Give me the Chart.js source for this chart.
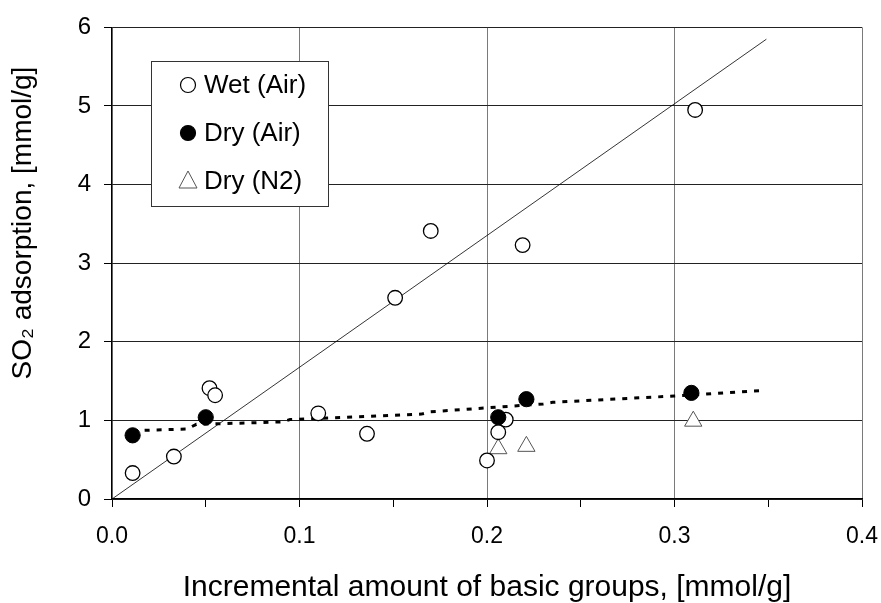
<!DOCTYPE html>
<html>
<head>
<meta charset="utf-8">
<script src="https://cdn.jsdelivr.net/npm/chart.js@4"></script>
<style>
  html, body { margin: 0; padding: 0; background: #fff; }
</style>
</head>
<body>
<canvas id="so2Chart" width="881" height="603"></canvas>
<script>
// values
const seriesNames = ['Wet (Air)', 'Dry (Air)', 'Dry (N2)'];

const wetX = [0.011, 0.033, 0.052, 0.055, 0.110, 0.136, 0.151, 0.170, 0.200, 0.206, 0.210, 0.219, 0.311];
const wetY = [0.33, 0.54, 1.41, 1.32, 1.09, 0.83, 2.56, 3.41, 0.49, 0.85, 1.01, 3.23, 4.95];

const dryAirX = [0.011, 0.050, 0.206, 0.221, 0.309];
const dryAirY = [0.81, 1.04, 1.04, 1.27, 1.35];

const dryN2X = [0.206, 0.221, 0.310];
const dryN2Y = [0.64, 0.67, 0.99];

// trend lines
const wetFitX = [0, 0.349];
const wetFitY = [0, 5.85];
const dryFitX = [0.011, 0.040, 0.045, 0.090, 0.095, 0.165, 0.170, 0.230, 0.235, 0.300, 0.346];
const dryFitY = [0.87, 0.89, 0.95, 0.98, 1.01, 1.08, 1.11, 1.21, 1.23, 1.31, 1.38];

const xTicks = ['0.0', '0.1', '0.2', '0.3', '0.4'];
const yTicks = ['0', '1', '2', '3', '4', '5', '6'];
const yTitle = 'SO₂ adsorption, [mmol/g]';

const FONT = "'Liberation Sans', Arial, sans-serif";

function pairs(xs, ys) {
    return xs.map((x, i) => ({ x: x, y: ys[i] }));
}

// legend box drawn inside the plot, like the original
const boxLegend = {
    id: 'boxLegend',
    afterDraw(chart) {
        const ctx = chart.ctx;
        const left = 151.5, top = 61.5, w = 177, h = 145;
        ctx.save();
        ctx.fillStyle = '#fff';
        ctx.fillRect(left, top, w, h);
        ctx.strokeStyle = '#333';
        ctx.lineWidth = 1;
        ctx.strokeRect(left, top, w, h);

        const rows = [85, 133, 181];
        const mx = 188;
        ctx.font = '26px ' + FONT;
        ctx.textBaseline = 'middle';
        seriesNames.forEach((name, i) => {
            const y = rows[i];
            ctx.beginPath();
            if (i === 2) {
                ctx.moveTo(mx, y - 10);
                ctx.lineTo(mx + 9, y + 7);
                ctx.lineTo(mx - 9, y + 7);
                ctx.closePath();
                ctx.fillStyle = '#fff';
                ctx.fill();
                ctx.strokeStyle = '#555';
                ctx.lineWidth = 1;
                ctx.stroke();
            } else {
                ctx.arc(mx, y, 7.5, 0, Math.PI * 2);
                ctx.fillStyle = i === 0 ? '#fff' : '#000';
                ctx.fill();
                ctx.strokeStyle = '#000';
                ctx.lineWidth = 1.2;
                ctx.stroke();
            }
            ctx.fillStyle = '#000';
            ctx.fillText(name, 204, y + 1);
        });

        // y axis title sits a bit above the middle in the original
        ctx.translate(23, 223);
        ctx.rotate(-Math.PI / 2);
        ctx.font = '28px ' + FONT;
        ctx.textAlign = 'center';
        ctx.fillStyle = '#000';
        ctx.fillText(yTitle, 0, 0);
        ctx.restore();
    }
};

new Chart(document.getElementById('so2Chart').getContext('2d'), {
    type: 'scatter',
    data: {
        datasets: [
            {
                label: seriesNames[0],
                data: pairs(wetX, wetY),
                pointStyle: 'circle',
                pointRadius: 7.3,
                pointBackgroundColor: '#fff',
                pointBorderColor: '#000',
                pointBorderWidth: 1.3,
                order: 1
            },
            {
                label: seriesNames[1],
                data: pairs(dryAirX, dryAirY),
                pointStyle: 'circle',
                pointRadius: 7.6,
                pointBackgroundColor: '#000',
                pointBorderColor: '#000',
                pointBorderWidth: 1,
                order: 0
            },
            {
                label: seriesNames[2],
                data: pairs(dryN2X, dryN2Y),
                pointStyle: 'triangle',
                pointRadius: 10,
                pointBackgroundColor: '#fff',
                pointBorderColor: '#555',
                pointBorderWidth: 1,
                order: 2
            },
            {
                type: 'line',
                label: 'wet fit',
                data: pairs(wetFitX, wetFitY),
                borderColor: '#000',
                borderWidth: 0.8,
                pointRadius: 0,
                fill: false,
                order: 4
            },
            {
                type: 'line',
                label: 'dry fit',
                data: pairs(dryFitX, dryFitY),
                borderColor: '#000',
                borderWidth: 3,
                borderDash: [5, 7],
                pointRadius: 0,
                fill: false,
                order: 3
            }
        ]
    },
    options: {
        responsive: false,
        animation: false,
        layout: { padding: { top: 25, right: 19, left: 0, bottom: 0 } },
        plugins: {
            legend: { display: false },
            tooltip: { enabled: false }
        },
        scales: {
            x: {
                type: 'linear',
                min: 0,
                max: 0.4,
                afterFit: s => {
                    s.height = 104;
                    s.paddingRight = 0;
                    s.paddingLeft = 0;
                },
                afterBuildTicks: s => {
                    s.ticks = [0, 0.05, 0.1, 0.15, 0.2, 0.25, 0.3, 0.35, 0.4].map(v => ({ value: v }));
                },
                ticks: {
                    autoSkip: false,
                    maxRotation: 0,
                    padding: 16,
                    color: '#000',
                    font: { family: FONT, size: 23 },
                    callback: (v, i) => (i % 2 === 0 ? xTicks[i / 2] : '')
                },
                grid: {
                    color: c => (c.index % 2 === 0 ? '#7a7a7a' : 'rgba(0,0,0,0)'),
                    tickColor: '#000',
                    tickLength: 8,
                    lineWidth: 1
                },
                border: { color: '#000', width: 1.2 },
                title: {
                    display: true,
                    text: 'Incremental amount of basic groups, [mmol/g]',
                    color: '#000',
                    font: { family: FONT, size: 30, lineHeight: 1 },
                    padding: { top: 0, bottom: 0 }
                }
            },
            y: {
                min: 0,
                max: 6,
                afterFit: s => { s.width = 112; },
                ticks: {
                    stepSize: 1,
                    padding: 13,
                    color: '#000',
                    font: { family: FONT, size: 24 },
                    callback: (v, i) => yTicks[i]
                },
                grid: {
                    color: '#222',
                    tickColor: '#000',
                    tickLength: 8,
                    lineWidth: 1
                },
                border: { color: '#000', width: 1.2 }
            }
        }
    },
    plugins: [boxLegend]
});
</script>
</body>
</html>
